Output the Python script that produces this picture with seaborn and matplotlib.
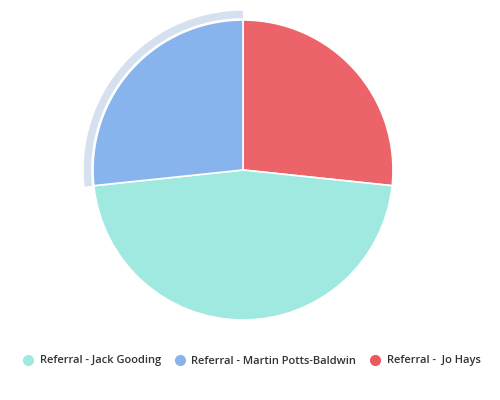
import matplotlib
matplotlib.use("Agg")
import matplotlib.pyplot as plt
from matplotlib.patches import Wedge
from matplotlib.lines import Line2D
import seaborn as sns

sns.set_theme(style="white")
plt.rcParams['font.family'] = ['Open Sans', 'DejaVu Sans']

# Data (legend order)
labels = ["Referral - Jack Gooding", "Referral - Martin Potts-Baldwin", "Referral -  Jo Hays"]
values = [7, 4, 4]
colors = ["#a0e9e0", "#88b4ee", "#ec6469"]
legend_colors = ["#a0e9e0", "#88b4ee", "#e85a60"]

# Drawing order: clockwise from top -> Jo Hays, Jack Gooding, Martin Potts-Baldwin
order = [2, 0, 1]

fig = plt.figure(figsize=(5, 4), dpi=100)
cx, cy, r = 243, 170, 150
ax = fig.add_axes([(cx - r) / 500, (400 - cy - r) / 400, 2 * r / 500, 2 * r / 400])

wedges, _ = ax.pie([values[i] for i in order], colors=[colors[i] for i in order],
                   startangle=90, counterclock=False, radius=1,
                   wedgeprops=dict(edgecolor="white", linewidth=1.2))

# hover halo on Martin Potts-Baldwin slice
w = wedges[2]
halo = Wedge((0, 0), 1.062, w.theta1, w.theta2, width=0.05,
             facecolor="#d6e1f0", edgecolor="none", zorder=0, clip_on=False)
ax.add_patch(halo)

ax.set_xlim(-1, 1)
ax.set_ylim(-1, 1)
ax.set_aspect("equal")
ax.axis("off")

handles = [Line2D([0], [0], marker="o", linestyle="none", markersize=7,
                  markerfacecolor=c, markeredgecolor=c) for c in legend_colors]
fig.legend(handles, labels, loc="center", bbox_to_anchor=(0.503, 1 - 361 / 400),
           ncol=3, frameon=False, prop=dict(size=8, weight="semibold"),
           handletextpad=0.55, columnspacing=1.2, handlelength=1.0,
           labelcolor="#333333")

fig.savefig("out.png", dpi=100)
